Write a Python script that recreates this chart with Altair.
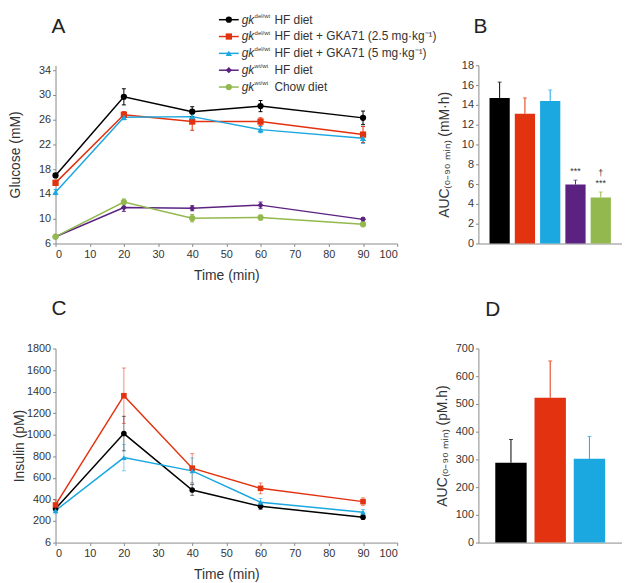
import altair as alt
import pandas as pd

# ---------------- data ----------------
times = [0, 20, 40, 60, 90]
series = ["g1", "g2", "g3", "g4", "g5"]
colors = ["#000000", "#e2320f", "#1ba7e0", "#5c2282", "#92b84e"]
shapes = ["circle", "square", "triangle-up", "diamond", "circle"]
legend_sup = ["del/wt", "del/wt", "del/wt", "wt/wt", "wt/wt"]
legend_text = ["HF diet", "HF diet + GKA71 (2.5 mg·kg⁻¹)", "HF diet + GKA71 (5 mg·kg⁻¹)",
               "HF diet", "Chow diet"]

# Panel A: glucose (mM)
glucose_g1 = [17.0, 29.7, 27.3, 28.2, 26.3]
glucose_g2 = [15.8, 26.8, 25.7, 25.7, 23.6]
glucose_g3 = [14.3, 26.4, 26.5, 24.4, 23.0]
glucose_g4 = [7.1, 11.8, 11.7, 12.2, 9.9]
glucose_g5 = [7.1, 12.7, 10.1, 10.2, 9.1]
glucose_err_g1 = [0.3, 1.3, 0.8, 0.9, 1.1]
glucose_err_g2 = [0.4, 0.5, 1.4, 0.6, 1.3]
glucose_err_g3 = [0.4, 0.4, 0.5, 0.5, 0.8]
glucose_err_g4 = [0.2, 0.6, 0.4, 0.5, 0.3]
glucose_err_g5 = [0.2, 0.5, 0.6, 0.4, 0.3]

# Panel B: glucose AUC (mM·h)
auc_glucose = [14.7, 13.1, 14.4, 5.95, 4.65]
auc_glucose_err = [1.6, 1.6, 1.1, 0.45, 0.55]

# Panel C: insulin (pM)
insulin_g1 = [313, 1011, 488, 337, 236]
insulin_g2 = [349, 1362, 690, 503, 380]
insulin_g3 = [297, 788, 665, 374, 282]
insulin_err_g1 = [30, 160, 50, 30, 20]
insulin_err_g2 = [45, 257, 135, 50, 35]
insulin_err_g3 = [30, 122, 120, 35, 25]

# Panel D: insulin AUC (pM.h)
auc_insulin = [288, 522, 302]
auc_insulin_err = [84, 133, 81]

# ---------------- tables ----------------
def time_table(names, vals, errs):
    rows = []
    for s, v, e in zip(names, vals, errs):
        for t, vi, ei in zip(times, v, e):
            rows.append(dict(series=s, time=t, value=vi, lo=vi - ei, hi=vi + ei))
    return pd.DataFrame(rows)

glu_df = time_table(series,
                    [glucose_g1, glucose_g2, glucose_g3, glucose_g4, glucose_g5],
                    [glucose_err_g1, glucose_err_g2, glucose_err_g3, glucose_err_g4, glucose_err_g5])
ins_df = time_table(series[:3], [insulin_g1, insulin_g2, insulin_g3],
                    [insulin_err_g1, insulin_err_g2, insulin_err_g3])
aucg_df = pd.DataFrame({"series": series, "auc": auc_glucose,
                        "top": [a + e for a, e in zip(auc_glucose, auc_glucose_err)]})
auci_df = pd.DataFrame({"series": series[:3], "auc": auc_insulin,
                        "top": [a + e for a, e in zip(auc_insulin, auc_insulin_err)]})
stars_df = aucg_df[aucg_df["series"].isin(["g4", "g5"])].assign(lab="***")
dagger_df = aucg_df[aucg_df["series"].isin(["g5"])].assign(lab="†")
leg_df = pd.DataFrame({"series": series, "row": list(range(5)),
                       "sup": legend_sup, "rest": legend_text})

color_scale = alt.Scale(domain=series, range=colors)
shape_scale = alt.Scale(domain=series, range=shapes)
COL = alt.Color("series:N", scale=color_scale, legend=None)
TXT = "#333333"
FONT = "Liberation Sans"


def letter(ch, dx, dy):
    return alt.Chart(pd.DataFrame({"t": [ch]})).mark_text(
        align="left", baseline="alphabetic", fontSize=21, font=FONT, color="#222222"
    ).encode(x=alt.value(dx), y=alt.value(dy), text="t:N")


def time_panel(df, ydomain, yvalues, ytitle, ytitlepad, ptsize, erropacity, label_expr=None):
    xax = alt.Axis(values=list(range(0, 101, 10)), title="Time (min)", titlePadding=9,
                   tickSize=3, labelPadding=2)
    yax_kw = dict(values=yvalues, title=ytitle, titlePadding=ytitlepad, tickSize=3,
                  labelPadding=2, format="d")
    if label_expr:
        yax_kw["labelExpr"] = label_expr
    yax = alt.Axis(**yax_kw)
    xs = alt.Scale(domain=[0, 100], nice=False)
    ys = alt.Scale(domain=ydomain, nice=False, zero=False)
    X = alt.X("time:Q", scale=xs, axis=xax)
    base = alt.Chart(df)
    line = base.mark_line(strokeWidth=1.5).encode(
        x=X, y=alt.Y("value:Q", scale=ys, axis=yax), color=COL)
    err = base.mark_rule(strokeWidth=1, opacity=erropacity).encode(
        x=X, y=alt.Y("lo:Q", scale=ys, axis=yax), y2="hi:Q", color=COL)
    caplo = base.mark_tick(orient="horizontal", size=4, thickness=1, opacity=erropacity).encode(
        x=X, y=alt.Y("lo:Q", scale=ys, axis=yax), color=COL)
    caphi = base.mark_tick(orient="horizontal", size=4, thickness=1, opacity=erropacity).encode(
        x=X, y=alt.Y("hi:Q", scale=ys, axis=yax), color=COL)
    pts = base.mark_point(filled=True, size=ptsize, opacity=1).encode(
        x=X, y=alt.Y("value:Q", scale=ys, axis=yax), color=COL,
        shape=alt.Shape("series:N", scale=shape_scale, legend=None))
    return alt.layer(line, err, caplo, caphi, pts)


def bar_panel(df, groups, ydomain, yvalues, ytitle, ytitlepad, pad_outer):
    X = alt.X("series:N", sort=groups,
              scale=alt.Scale(domain=groups, paddingInner=0.2, paddingOuter=pad_outer),
              axis=alt.Axis(labels=False, ticks=False, title=None))
    ys = alt.Scale(domain=ydomain, nice=False)
    yax = alt.Axis(values=yvalues, title=ytitle, titlePadding=ytitlepad, tickSize=3, labelPadding=2)
    base = alt.Chart(df)
    bars = base.mark_bar().encode(x=X, y=alt.Y("auc:Q", scale=ys, axis=yax), color=COL)
    err = base.mark_rule(strokeWidth=1).encode(
        x=X, y=alt.Y("auc:Q", scale=ys, axis=yax), y2="top:Q", color=COL)
    cap = base.mark_tick(orient="horizontal", size=4, thickness=1).encode(
        x=X, y=alt.Y("top:Q", scale=ys, axis=yax), color=COL)
    return X, ys, yax, [bars, err, cap]


# ---------------- Panel A ----------------
mainA = time_panel(glu_df, [6, 34.8], list(range(6, 35, 4)), "Glucose (mM)", 16, 40, 1.0)
yL = alt.Y("row:O", scale=alt.Scale(type="point", domain=[0, 1, 2, 3, 4], range=[-46, 22], padding=0),
           axis=None)
lbase = alt.Chart(leg_df)
legend = alt.layer(
    lbase.mark_rule(strokeWidth=1.5).encode(x=alt.value(165), x2=alt.value(185), y=yL, color=COL),
    lbase.mark_point(filled=True, size=40, opacity=1).encode(
        x=alt.value(175), y=yL, color=COL,
        shape=alt.Shape("series:N", scale=shape_scale, legend=None)),
    lbase.mark_text(align="left", baseline="middle", fontSize=12, fontStyle="italic",
                    font=FONT, color=TXT).encode(x=alt.value(188), y=yL, text=alt.value("gk")),
    lbase.mark_text(align="left", baseline="middle", fontSize=6, dy=-4, font=FONT,
                    color=TXT).encode(x=alt.value(201), y=yL, text="sup:N"),
    lbase.mark_text(align="left", baseline="middle", fontSize=12, font=FONT,
                    color=TXT).encode(x=alt.value(221), y=yL, text="rest:N"),
)
panelA = alt.layer(mainA, legend, letter("A", -4, -33)).resolve_scale(y="independent").properties(
    width=345, height=180)

# ---------------- Panel B ----------------
XB, ysB, yaxB, layersB = bar_panel(aucg_df, series, [0, 18], list(range(0, 19, 2)),
                                   "AUC₍₀₋₉₀ ₘᵢₙ₎ (mM·h)", 10, 0.44)
stars = alt.Chart(stars_df).mark_text(fontSize=9, dy=-9, color=TXT, font=FONT).encode(
    x=XB, y=alt.Y("top:Q", scale=ysB, axis=yaxB), text="lab:N")
dagger = alt.Chart(dagger_df).mark_text(fontSize=9, dy=-19, color=TXT, font=FONT).encode(
    x=XB, y=alt.Y("top:Q", scale=ysB, axis=yaxB), text="lab:N")
panelB = alt.layer(*layersB, stars, dagger, letter("B", -5, -33)).properties(width=145, height=180)

# ---------------- Panel C ----------------
mainC = time_panel(ins_df, [0, 1800], list(range(0, 1801, 200)), "Insulin (pM)", 0, 32, 0.55,
                   label_expr="datum.value == 0 ? '6' : datum.label")
panelC = alt.layer(mainC, letter("C", -4, -34)).properties(width=345, height=196)

# ---------------- Panel D ----------------
XD, ysD, yaxD, layersD = bar_panel(auci_df, series[:3], [0, 700], list(range(0, 701, 100)),
                                   "AUC₍₀₋₉₀ ₘᵢₙ₎ (pM.h)", 6, 0.43)
panelD = alt.layer(*layersD, letter("D", 7, -33)).properties(width=145, height=196)

chart = alt.concat(
    panelA, panelB, panelC, panelD, columns=2,
    spacing={"row": 106, "column": 82}, bounds="flush", align="each"
).properties(padding={"top": 2, "left": 0, "right": 0, "bottom": 0}).configure(font=FONT).configure_axis(
    labelFontSize=11, titleFontSize=14, titleFontWeight="normal", labelColor=TXT,
    titleColor=TXT, domainColor="#8a8a8a", tickColor="#8a8a8a", grid=False,
    labelFont=FONT, titleFont=FONT
).configure_view(stroke=None)

chart.save("out.html", embed_options={"renderer": "svg", "actions": False})
